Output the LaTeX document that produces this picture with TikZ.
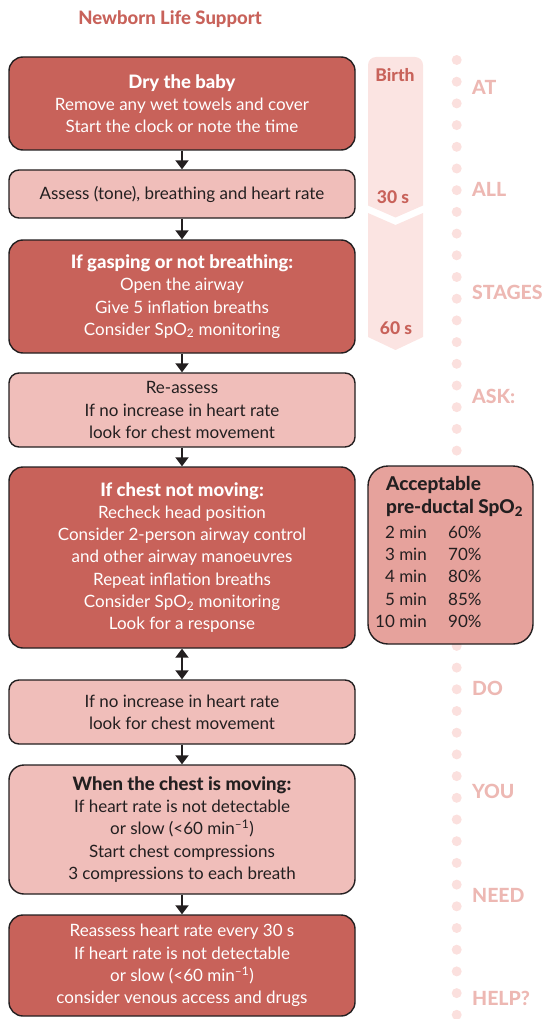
\documentclass[tikz,border=0pt]{standalone}
\usepackage{fontspec}
\setmainfont{Lato}[BoldFont={Lato Heavy}]
\usetikzlibrary{arrows.meta}
\definecolor{nlsdark}{HTML}{C8625A}
\definecolor{nlslight}{HTML}{F0BEBA}
\definecolor{nlspale}{HTML}{FBE4E2}
\definecolor{nlsmid}{HTML}{E6A29C}
\definecolor{nlsword}{HTML}{EDB8B3}
\definecolor{nlsdot}{HTML}{FBE0DE}
\definecolor{nlsink}{HTML}{231F20}
% bold heading line inside a box, a little larger than the body text
\newcommand{\boxhead}[1]{{\bfseries\fontsize{18.5}{22.3}\selectfont #1}}
\tikzset{
  box/.style={rectangle, draw=nlsink, line width=1.4pt, minimum width=346pt,
    inner sep=0pt, align=center, font=\fontsize{17}{22.3}\selectfont},
  darkbox/.style={box, fill=nlsdark, text=white, rounded corners=14pt},
  lightbox/.style={box, fill=nlslight, text=nlsink, rounded corners=10pt},
  arr/.style={-{Triangle[length=9pt,width=13pt]}, line width=2pt, draw=nlsink},
  dblarr/.style={{Triangle[length=9pt,width=13pt]}-{Triangle[length=9pt,width=13pt]}, line width=2pt, draw=nlsink},
  sideword/.style={anchor=west, inner sep=0pt, text=nlsword, font=\bfseries\fontsize{19.5}{22}\selectfont},
  timelabel/.style={inner sep=0pt, text=nlsdark, font=\bfseries\fontsize{17.5}{20}\selectfont},
  sattext/.style={inner sep=0pt, text=nlsink, font=\fontsize{17}{20}\selectfont},
  sathead/.style={inner sep=0pt, text=nlsink, anchor=west, font=\bfseries\fontsize{19}{22}\selectfont},
}
\begin{document}
\begin{tikzpicture}[x=1pt,y=-1pt]
\useasboundingbox (0,0) rectangle (547,1019);

% title
\node[inner sep=0pt, text=nlsdark, font=\bfseries\fontsize{18.5}{22}\selectfont] (title) at (170,19) {Newborn Life Support};

% timeline band: birth to 30 s, then 30 s to 60 s
\fill[nlspale] (368,205.5) [rounded corners=8pt] -- (368,57) -- (423,57) [sharp corners] -- (423,205.5) -- (395.5,217.5) -- cycle;
\fill[nlspale] (368,213) -- (395.5,225) -- (423,213) -- (423,337) -- (395.5,350) -- (368,337) -- cycle;
\node[timelabel] (tbirth) at (395,75) {Birth};
\node[timelabel] (t30) at (393,197) {30 s};
\node[timelabel] (t60) at (396,328) {60 s};

% dotted column
\foreach \k in {0,...,44} {
  \fill[nlsdot] (456.7,{60+21.7*\k}) circle (5pt);
}
\node[sideword] (wat) at (472,87) {AT};
\node[sideword] (wall) at (472,189) {ALL};
\node[sideword] (wstages) at (472,292) {STAGES};
\node[sideword] (wask) at (472,396) {ASK:};
\node[sideword] (wdo) at (472,688) {DO};
\node[sideword] (wyou) at (472,791) {YOU};
\node[sideword] (wneed) at (472,895) {NEED};
\node[sideword] (whelp) at (472,998) {HELP?};

% algorithm boxes
\node[darkbox, minimum height=93pt] (b1) at (182,103.5)
  {\boxhead{Dry the baby}\\Remove any wet towels and cover\\Start the clock or note the time};
\node[lightbox, minimum height=48pt] (b2) at (182,194)
  {Assess (tone), breathing and heart rate};
\node[darkbox, minimum height=113pt] (b3) at (182,296.5)
  {\boxhead{If gasping or not breathing:}\\Open the airway\\Give 5 inflation breaths\\Consider SpO\textsubscript{2} monitoring};
\node[lightbox, minimum height=74pt] (b4) at (182,410)
  {Re-assess\\If no increase in heart rate\\look for chest movement};
\node[darkbox, minimum height=181pt] (b5) at (182,557.5)
  {\boxhead{If chest not moving:}\\Recheck head position\\Consider 2-person airway control\\and other airway manoeuvres\\Repeat inflation breaths\\Consider SpO\textsubscript{2} monitoring\\Look for a response};
\node[lightbox, minimum height=64pt] (b6) at (182,712)
  {If no increase in heart rate\\look for chest movement};
\node[lightbox, rounded corners=15pt, minimum height=129pt] (b7) at (182,829.5)
  {\boxhead{When the chest is moving:}\\If heart rate is not detectable\\or slow (<60 min\textsuperscript{–1})\\Start chest compressions\\3 compressions to each breath};
\node[darkbox, minimum height=101pt] (b8) at (182,965.5)
  {Reassess heart rate every 30 s\\If heart rate is not detectable\\or slow (<60 min\textsuperscript{–1})\\consider venous access and drugs};

% connectors
\draw[arr] (b1.south) -- (b2.north);
\draw[arr] (b2.south) -- (b3.north);
\draw[arr] (b3.south) -- (b4.north);
\draw[arr] (b4.south) -- (b5.north);
\draw[dblarr] (b5.south) -- (b6.north);
\draw[arr] (b6.south) -- (b7.north);
\draw[arr] (b7.south) -- (b8.north);

% saturation targets
\node[rectangle, draw=nlsink, line width=1.4pt, fill=nlsmid, rounded corners=20pt,
  minimum width=165pt, minimum height=178pt, inner sep=0pt] (spo) at (450.5,555) {};
\node[sathead] (sh1) at (386,485) {Acceptable};
\node[sathead] (sh2) at (386,508) {pre-ductal SpO\textsubscript{2}};
\foreach \t/\p/\yy [count=\i] in {2/60/532, 3/70/554.5, 4/80/576.5, 5/85/599, 10/90/621.5} {
  \node[sattext, anchor=east] (smin\i) at (427,\yy) {\t\ min};
  \node[sattext, anchor=west] (spct\i) at (448,\yy) {\p\%};
}
\end{tikzpicture}
\end{document}
